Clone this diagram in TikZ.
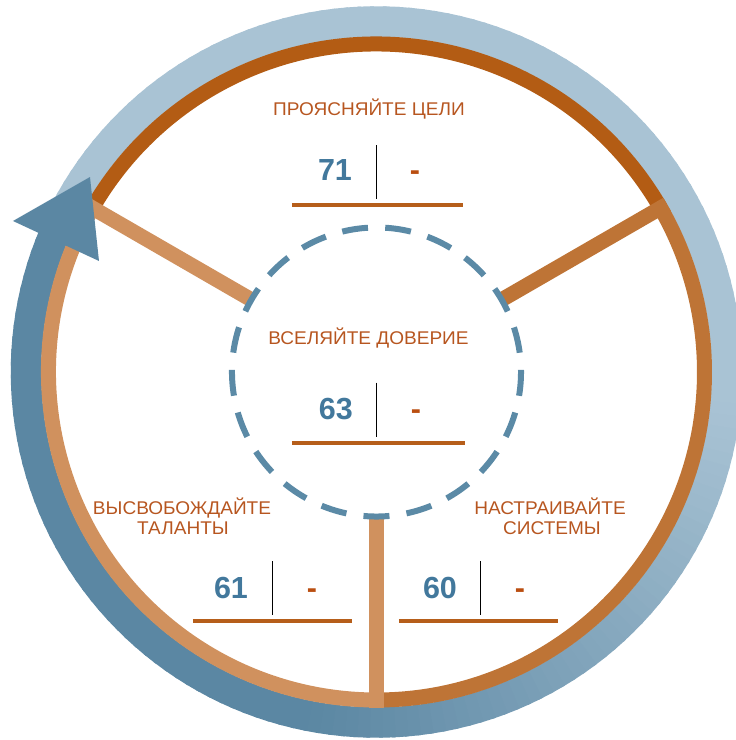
\documentclass[tikz,border=0pt]{standalone}
\usepackage{fontspec}
\setmainfont{Liberation Sans}
\newfontfamily\titlefont[FakeStretch=1.035]{Liberation Sans}
\definecolor{blueL}{HTML}{A9C3D4}
\definecolor{blueD}{HTML}{5B87A3}
\definecolor{orTop}{HTML}{B35C14}
\definecolor{orRight}{HTML}{BE7436}
\definecolor{orLeft}{HTML}{D0915E}
\definecolor{dashBlue}{HTML}{5B8AA6}
\definecolor{titleOr}{HTML}{B75620}
\definecolor{lineOr}{HTML}{B65E1A}
\definecolor{hyphOr}{HTML}{BA4E10}
\definecolor{numBlue}{HTML}{42789C}
\tikzset{
  ringseg/.style={line width=15pt},
  spoke/.style={line width=15pt},
  titletext/.style={anchor=base, inner sep=0pt, text=titleOr, font=\titlefont\fontsize{18.4}{20}\selectfont},
  numtext/.style={anchor=base, inner sep=0pt, text=numBlue, font=\fontsize{30.5}{32}\selectfont\bfseries},
  hyphtext/.style={anchor=base, inner sep=0pt, text=hyphOr, font=\fontsize{30.5}{32}\selectfont\bfseries},
  sepline/.style={draw=black, line width=1.3pt},
  underline/.style={draw=lineOr, line width=4pt},
}
\begin{document}
\begin{tikzpicture}[x=1pt,y=1pt]
\useasboundingbox (-376.5,-368) rectangle (359.5,372);
\coordinate (c) at (0,0);
% outer blue ring with gradient
\foreach \a in {153,151,...,-203}{
  \pgfmathtruncatemacro\p{max(0,min(100,(\a+100)/0.95))}
  \draw[line width=30.5pt, color=blueL!\p!blueD] (\a:350.5) arc[start angle=\a, end angle=\a-2.6, radius=350.5];
}
% orange ring
\draw[ringseg, orTop] (30:328) arc[start angle=30, end angle=150, radius=328];
\draw[ringseg, orLeft] (150:328) arc[start angle=150, end angle=270, radius=328];
\draw[ringseg, orRight] (-90:328) arc[start angle=-90, end angle=30, radius=328];
% spokes
\coordinate (s1a) at (150:144.5); \coordinate (s1b) at (150:335.5);
\coordinate (s2a) at (30:144.5);  \coordinate (s2b) at (30:335.5);
\coordinate (s3a) at (270:144.5); \coordinate (s3b) at (270:335.5);
\draw[spoke, orLeft] (s1a) -- (s1b);
\draw[spoke, orRight] (s2a) -- (s2b);
\draw[spoke, orLeft] (s3a) -- (s3b);
% dashed circle
\draw[dashBlue, line width=6pt, dash pattern=on 26pt off 17.234pt, dash phase=13pt]
  (150:144.5) arc[start angle=150, end angle=510, radius=144.5];
% arrow head
\coordinate (tip) at (-286.5,195);
\coordinate (hb1) at (-363.5,151);
\coordinate (hb2) at (-277.5,111);
\fill[blueD] (tip) -- (hb1) -- (hb2) -- cycle;
% top group
\node[titletext] (t1) at (-7.5,257) {ПРОЯСНЯЙТЕ ЦЕЛИ};
\node[numtext] (n1) at (-41.5,192) {71};
\node[hyphtext] (h1) at (38.5,192) {-};
\draw[sepline] (-0.2,227) -- (-0.2,173);
\draw[underline] (-84.5,167) -- (86.5,167);
% middle group
\node[titletext] (t2) at (-8,27.5) {ВСЕЛЯЙТЕ ДОВЕРИЕ};
\node[numtext] (n2) at (-40.7,-47.3) {63};
\node[hyphtext] (h2) at (39.5,-47.3) {-};
\draw[sepline] (0.2,-10.7) -- (0.2,-64.7);
\draw[underline] (-84.5,-70.7) -- (88.5,-70.7);
% left group
\node[titletext] (t3a) at (-194.5,-142.3) {ВЫСВОБОЖДАЙТЕ};
\node[titletext] (t3b) at (-193.5,-162.3) {ТАЛАНТЫ};
\node[numtext] (n3) at (-145.5,-226.3) {61};
\node[hyphtext] (h3) at (-64.5,-226.3) {-};
\draw[sepline] (-103.8,-189) -- (-103.8,-243);
\draw[underline] (-183.5,-248.7) -- (-24.8,-248.7);
% right group
\node[titletext] (t4a) at (173.5,-142.3) {НАСТРАИВАЙТЕ};
\node[titletext] (t4b) at (175.5,-162.3) {СИСТЕМЫ};
\node[numtext] (n4) at (63.5,-226.3) {60};
\node[hyphtext] (h4) at (143.5,-226.3) {-};
\draw[sepline] (104.3,-189) -- (104.3,-243);
\draw[underline] (22.5,-248.7) -- (181.2,-248.7);
\end{tikzpicture}
\end{document}
